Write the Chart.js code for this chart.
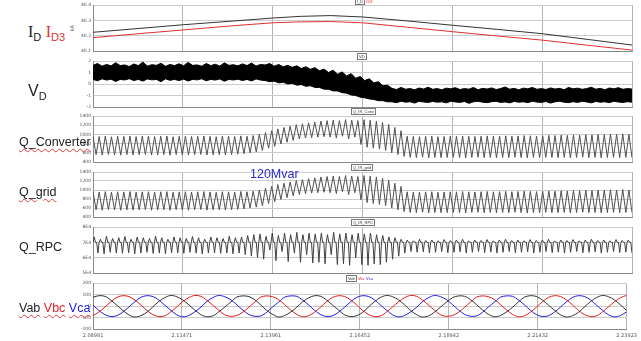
<!DOCTYPE html>
<html lang="en">
<head>
    <meta charset="UTF-8">
    <title>Waveforms</title>
    <script src="https://cdn.jsdelivr.net/npm/chart.js"></script>
    <style>
        body { margin: 0; background: #fff; width: 641px; height: 341px; overflow: hidden; position: relative; font-family: 'Liberation Sans', Arial, sans-serif; }
        canvas { position: absolute; left: 70px; }
        .lbl { position: absolute; font-size: 12.5px; color: #222; white-space: nowrap; line-height: 1; }
        .wavy { text-decoration: underline wavy #e04040; text-decoration-thickness: 1px; text-underline-offset: 2px; }
        .tag { position: absolute; font-size: 4px; line-height: 4px; white-space: nowrap; color: #333; }
        .box { border: 1px solid #777; padding: 0 1px; background: #fff; }
    </style>
</head>
<body>
    <canvas id="p1" width="571" height="56" style="top:0px"></canvas>
    <canvas id="p2" width="571" height="56" style="top:56px"></canvas>
    <canvas id="p3" width="571" height="56" style="top:111px"></canvas>
    <canvas id="p4" width="571" height="55" style="top:167px"></canvas>
    <canvas id="p5" width="571" height="56" style="top:222px"></canvas>
    <canvas id="p6" width="571" height="63" style="top:278px"></canvas>

    <div class="lbl" style="left:28px; top:24px; font-size:16px;"><span style="font-family:'Liberation Serif',serif;">I</span><sub style="font-size:11px;">D</sub> <span style="color:#e03030;"><span style="font-family:'Liberation Serif',serif;">I</span><sub style="font-size:11px;">D3</sub></span></div>
    <div class="lbl" style="left:28px; top:83px; font-size:16px;">V<sub style="font-size:11px;">D</sub></div>
    <div class="lbl wavy" style="left:19px; top:136px;">Q_Converter</div>
    <div class="lbl wavy" style="left:19px; top:186px;">Q_grid</div>
    <div class="lbl" style="left:19px; top:241px;">Q_RPC</div>
    <div class="lbl" style="left:19px; top:302px;"><span class="wavy">Vab</span> <span class="wavy" style="color:#e02020;">Vbc</span> <span class="wavy" style="color:#2020e0;">Vca</span></div>
    <div class="lbl" style="left:250px; top:168px; color:#2a2ad0; font-size:12.5px;">120Mvar</div>

    <div class="tag" style="left:355px; top:0px;"><span class="box">I_D</span> <span style="color:#e03030;">ID3</span></div>
    <div class="tag" style="left:357px; top:55px;"><span class="box">VD</span></div>
    <div class="tag" style="left:351px; top:110px;"><span class="box">Q_IR_Conv</span></div>
    <div class="tag" style="left:351px; top:166px;"><span class="box">Q_IR_grid</span></div>
    <div class="tag" style="left:351px; top:221px;"><span class="box">Q_IR_RPC</span></div>
    <div class="tag" style="left:346px; top:277px;"><span class="box">Vab</span> <span style="color:#e02020;">Vbc</span> <span style="color:#2020e0;">Vca</span></div>

    <script>
        // time axis
        const tStart = 2.08981;
        const tEnd = 2.23923;
        const xTicks = [2.08981, 2.11471, 2.13961, 2.16452, 2.18942, 2.21432, 2.23923];
        const xTickLabels = ['2.08981', '2.11471', '2.13961', '2.16452', '2.18942', '2.21432', '2.23923'];

        // I_D and I_D3 (kA)
        const idTimes = [2.08981, 2.10201, 2.11471, 2.12721, 2.13961, 2.14737, 2.15569, 2.16452, 2.17699, 2.18942, 2.20189, 2.21432, 2.22680, 2.23923];
        const idBlack = [40.222, 40.246, 40.271, 40.293, 40.315, 40.326, 40.331, 40.322, 40.296, 40.268, 40.241, 40.213, 40.176, 40.139];
        const idRed = [40.187, 40.212, 40.237, 40.262, 40.284, 40.290, 40.292, 40.284, 40.255, 40.226, 40.198, 40.171, 40.138, 40.106];

        // V_D band (upper / lower edge)
        const vdHigh = [1.62, 1.78, 1.55, 1.7, 1.58, 1.85, 1.6, 1.66, 1.52, 1.74, 1.6, 1.9, 1.56, 1.68, 1.62, 1.8, 1.54, 1.7, 1.6, 1.76,
            1.58, 1.88, 1.62, 1.66, 1.55, 1.78, 1.6, 1.72, 1.56, 1.84, 1.62, 1.68, 1.58, 1.75, 1.6, 1.82, 1.56, 1.7,
            1.65, 1.78, 1.55, 1.7, 1.5, 1.62, 1.45, 1.58, 1.35, 1.5, 1.28, 1.42, 1.15, 1.3, 1.0, 1.2, 0.85, 1.05, 0.7, 0.9,
            0.5, 0.65, 0.3, 0.45, 0.1, 0.2, -0.15, -0.1,
            -0.38, -0.48, -0.3, -0.45, -0.4, -0.5, -0.35, -0.44, -0.28, -0.46, -0.4, -0.5, -0.36, -0.42, -0.32, -0.48, -0.4, -0.45, -0.3, -0.5,
            -0.38, -0.44, -0.34, -0.48, -0.4, -0.26, -0.45, -0.38, -0.5, -0.36, -0.42, -0.3, -0.46, -0.4, -0.48, -0.34, -0.44, -0.38, -0.5, -0.3,
            -0.42, -0.36, -0.46, -0.4, -0.28, -0.45, -0.38, -0.5, -0.35, -0.42, -0.32, -0.46, -0.4, -0.44];
        const vdLow = [0.4, 0.28, 0.45, 0.34, 0.42, 0.22, 0.4, 0.35, 0.46, 0.3, 0.4, 0.25, 0.44, 0.36, 0.4, 0.2, 0.45, 0.32, 0.4, 0.3,
            0.42, 0.26, 0.4, 0.36, 0.45, 0.28, 0.4, 0.34, 0.44, 0.24, 0.4, 0.35, 0.42, 0.3, 0.4, 0.26, 0.44, 0.34,
            0.3, 0.2, 0.25, 0.1, 0.15, 0.0, 0.05, -0.1, -0.05, -0.2, -0.15, -0.3, -0.3, -0.45, -0.45, -0.6, -0.6, -0.75, -0.8, -0.95,
            -1.0, -1.15, -1.2, -1.3, -1.35, -1.45, -1.45, -1.55,
            -1.55, -1.62, -1.5, -1.58, -1.54, -1.66, -1.5, -1.57, -1.6, -1.52, -1.58, -1.55, -1.64, -1.5, -1.56, -1.6, -1.52, -1.68, -1.55, -1.5,
            -1.58, -1.62, -1.54, -1.5, -1.6, -1.56, -1.64, -1.52, -1.58, -1.55, -1.62, -1.5, -1.57, -1.6, -1.52, -1.66, -1.55, -1.5, -1.58, -1.62,
            -1.54, -1.6, -1.5, -1.56, -1.64, -1.52, -1.58, -1.55, -1.62, -1.5, -1.57, -1.6, -1.54, -1.58];

        // Q_Converter, tooth peaks and troughs
        const convHigh = [960, 955, 965, 950, 960, 958, 965, 952, 960, 962, 955, 960, 965, 950, 958, 962, 955, 960, 965, 958, 950, 962, 960, 955, 968, 960, 975,
            1000, 1040, 1080, 1120, 1150, 1180, 1210, 1230, 1250, 1270,
            1290, 1300, 1310, 1300, 1320, 1310, 1300, 1320, 1310, 1290,
            1260, 1220, 1150, 1080,
            960, 955, 950, 958, 962, 950, 955, 960, 958, 965, 960, 955, 962, 968, 960, 965, 970, 962, 968, 975, 970, 965, 972, 980, 975, 985, 980, 990, 985, 995, 990, 1000, 995, 1005, 1000, 1010, 1000];
        const convLow = [560, 550, 565, 555, 548, 560, 552, 558, 565, 550, 555, 560, 548, 562, 555, 550, 560, 565, 552, 558, 560, 555, 562, 570, 580, 600, 620,
            650, 700, 740, 790, 830, 870, 900, 920, 930, 940,
            950, 940, 920, 960, 900, 940, 780, 720, 700, 680,
            650, 600, 560, 520,
            500, 495, 505, 490, 500, 495, 498, 502, 495, 490, 500, 505, 495, 498, 492, 500, 495, 505, 498, 490, 500, 495, 502, 498, 495, 500, 490, 498, 505, 495, 500, 492, 498, 502, 495, 500, 498];
        // Q_grid reads the same as Q_Converter
        const gridHigh = convHigh;
        const gridLow = convLow;

        // Q_RPC (x1E4)
        const rpcBase = 7.0;
        const rpcHigh = [7.35, 7.2, 7.4, 7.25, 7.3, 7.38, 7.2, 7.35, 7.3, 7.25, 7.4, 7.3, 7.2, 7.35, 7.3, 7.25, 7.38, 7.3, 7.2, 7.35, 7.3, 7.25, 7.4, 7.3, 7.35, 7.45, 7.5,
            7.55, 7.4, 7.6, 7.45, 7.6, 7.5, 7.65, 7.5, 7.6, 7.55,
            7.6, 7.5, 7.65, 7.55, 7.6, 7.5, 7.6, 7.55, 7.6, 7.5,
            7.45, 7.35, 7.3, 7.2,
            7.15, 7.1, 7.2, 7.12, 7.15, 7.1, 7.18, 7.12, 7.15, 7.2, 7.1, 7.15, 7.12, 7.18, 7.1, 7.15, 7.2, 7.12, 7.15, 7.1, 7.18, 7.12, 7.15, 7.2, 7.1, 7.15, 7.12, 7.18, 7.1, 7.15, 7.2, 7.12, 7.15, 7.1, 7.18, 7.12, 7.15];
        const rpcLow = [6.3, 6.25, 6.35, 6.3, 6.28, 6.32, 6.25, 6.3, 6.35, 6.28, 6.3, 6.25, 6.32, 6.3, 6.28, 6.35, 6.3, 6.25, 6.3, 6.32, 6.28, 6.3, 6.25, 6.3, 6.2, 6.1, 6.0,
            5.9, 6.5, 5.8, 6.4, 5.75, 6.3, 5.7, 6.2, 5.65, 5.7,
            5.6, 6.2, 5.55, 5.6, 5.5, 6.0, 5.55, 5.5, 5.6, 5.55,
            5.7, 5.9, 6.1, 6.3,
            6.4, 6.35, 6.38, 6.3, 6.35, 6.4, 6.32, 6.35, 6.38, 6.3, 6.35, 6.4, 6.33, 6.36, 6.3, 6.35, 6.4, 6.32, 6.35, 6.38, 6.3, 6.35, 6.4, 6.33, 6.36, 6.3, 6.35, 6.4, 6.32, 6.35, 6.38, 6.3, 6.35, 6.4, 6.33, 6.36, 6.3];

        // line voltages, sampled every 30 degrees
        const vab = [76, 90, 84, 50, 6, -40, -78, -96, -84, -54, -6, 40,
            74, 92, 80, 52, 10, -36, -76, -94, -86, -50, -8, 36,
            78, 88, 82, 54, 8, -40, -74, -96, -82, -52, -10, 38,
            72, 90, 84, 50, 6, -38, -78, -92, -84, -54, -6, 40,
            76, 92, 80, 52, 8, -40, -76, -96, -86, -52, -8, 36,
            74, 88, 84, 54, 10, -36, -74, -94, -82, -50, -10, 38,
            78, 90, 82, 50, 6, -38, -78, -96, -84, -54, -6, 40,
            74, 92, 80, 52, 8, -40];
        const vbc = [-84, -52, -8, 38, 76, 90, 82, 52, 8, -40, -76, -92,
            -86, -50, -6, 40, 74, 92, 84, 50, 6, -38, -78, -90,
            -82, -54, -10, 36, 78, 88, 80, 54, 10, -36, -74, -94,
            -84, -52, -8, 40, 76, 90, 82, 52, 8, -40, -76, -92,
            -86, -50, -6, 38, 74, 92, 84, 50, 6, -38, -78, -90,
            -82, -54, -10, 36, 78, 88, 80, 54, 10, -36, -74, -94,
            -84, -52, -8, 40, 76, 90, 82, 52, 8, -40, -76, -92,
            -86, -50, -6, 38, 74, 92];
        const vca = [8, -40, -76, -92, -84, -52, -8, 38, 76, 90, 82, 52,
            6, -38, -78, -94, -82, -50, -10, 40, 74, 92, 80, 54,
            10, -36, -74, -90, -86, -54, -6, 36, 78, 88, 84, 50,
            8, -40, -76, -92, -84, -52, -8, 38, 76, 90, 82, 52,
            6, -38, -78, -94, -82, -50, -10, 40, 74, 92, 80, 54,
            10, -36, -74, -90, -86, -54, -6, 36, 78, 88, 84, 50,
            8, -40, -76, -92, -84, -52, -8, 38, 76, 90, 82, 52,
            6, -38, -78, -94, -82, -50];

        // y axes
        const yTicks1 = [40.1, 40.2, 40.3, 40.4];
        const yTicks2 = [-2, -1, 0, 1, 2];
        const yTicksQ = [400, 600, 800, 1000, 1200, 1400];
        const yTicks5 = [5, 6, 7, 8];
        const yLabels5 = ['5E4', '6E4', '7E4', '8E4'];
        const yTicks6 = [-200, -100, 0, 100, 200];

        // spread a list of values evenly across the time range
        function onTime(values) {
            const step = (tEnd - tStart) / (values.length - 1);
            return values.map((v, i) => ({ x: tStart + i * step, y: v }));
        }

        function teeth(hi, lo) {
            const seq = [];
            hi.forEach((h, j) => { seq.push(h); seq.push(lo[j]); });
            return onTime(seq);
        }

        // flat base, short spike up, flat base, dip down
        function rpcTeeth(hi, lo) {
            const seq = [];
            hi.forEach((h, j) => { seq.push(rpcBase, h, rpcBase, rpcBase, lo[j]); });
            return onTime(seq);
        }

        function line(data, color, extra) {
            return Object.assign({ data: data, borderColor: color, borderWidth: 1, pointRadius: 0, fill: false, tension: 0 }, extra || {});
        }

        function panel(id, datasets, yMin, yMax, yTicks, yLabels, showX, yTitle) {
            const ctx = document.getElementById(id).getContext('2d');
            return new Chart(ctx, {
                type: 'line',
                data: { datasets: datasets },
                options: {
                    responsive: false,
                    animation: false,
                    devicePixelRatio: 1,
                    layout: { padding: { top: 5, right: 9, bottom: showX ? 0 : 5, left: 0 } },
                    plugins: { legend: { display: false }, tooltip: { enabled: false } },
                    scales: {
                        x: {
                            type: 'linear', min: tStart, max: tEnd,
                            afterBuildTicks: s => { s.ticks = xTicks.map(v => ({ value: v })); },
                            afterFit: s => { s.height = showX ? 12 : 0; },
                            grid: { color: '#b4b4b4', drawTicks: false },
                            border: { color: '#8a8a8a' },
                            ticks: {
                                display: showX, maxRotation: 0, padding: 4,
                                font: { size: 5, family: 'DejaVu Sans' }, color: '#555',
                                callback: (v, i) => xTickLabels[i]
                            }
                        },
                        y: {
                            min: yMin, max: yMax,
                            afterBuildTicks: s => { s.ticks = yTicks.map(v => ({ value: v })); },
                            afterFit: s => { s.width = 23; },
                            grid: { color: '#cccccc', drawTicks: false },
                            border: { color: '#8a8a8a' },
                            title: { display: !!yTitle, text: yTitle, padding: 0, font: { size: 5 }, color: '#555' },
                            ticks: {
                                padding: 2, font: { size: 4.5, family: 'DejaVu Sans' }, color: '#555',
                                callback: (v, i) => yLabels[i]
                            }
                        }
                    }
                }
            });
        }

        panel('p1', [
            line(idTimes.map((t, i) => ({ x: t, y: idBlack[i] })), '#333'),
            line(idTimes.map((t, i) => ({ x: t, y: idRed[i] })), '#e03030')
        ], 40.1, 40.4, yTicks1, yTicks1.map(String), false, 'kA');

        panel('p2', [
            line(onTime(vdLow), '#000'),
            line(onTime(vdHigh), '#000', { fill: '-1', backgroundColor: '#000' })
        ], -2, 2, yTicks2, yTicks2.map(String), false);

        panel('p3', [line(teeth(convHigh, convLow), '#505050')], 400, 1400, yTicksQ, yTicksQ.map(String), false);
        panel('p4', [line(teeth(gridHigh, gridLow), '#505050')], 400, 1400, yTicksQ, yTicksQ.map(String), false);
        panel('p5', [line(rpcTeeth(rpcHigh, rpcLow), '#404040')], 5, 8, yTicks5, yLabels5, false);

        panel('p6', [
            line(onTime(vab), '#333', { tension: 0.3 }),
            line(onTime(vbc), '#e02020', { tension: 0.3 }),
            line(onTime(vca), '#2020e0', { tension: 0.3 })
        ], -200, 200, yTicks6, yTicks6.map(String), true);
    </script>
</body>
</html>
